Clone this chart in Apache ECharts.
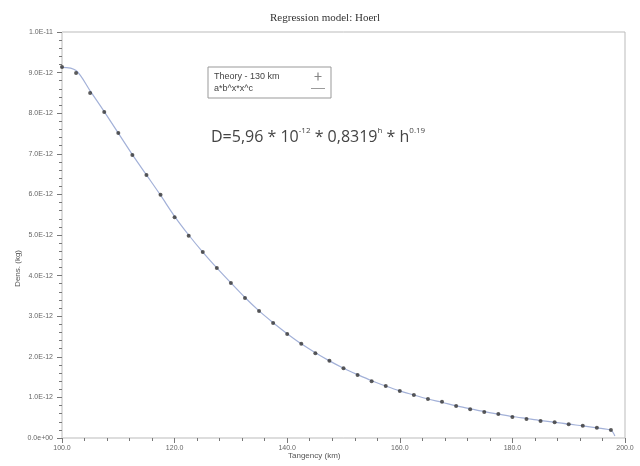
<!DOCTYPE html>
<html>
<head>
<meta charset="utf-8">
<script src="https://cdn.jsdelivr.net/npm/echarts@6/dist/echarts.min.js"></script>
<style>html,body{margin:0;padding:0;background:#fff}#c{width:640px;height:466px}</style>
</head>
<body>
<div id="c"></div>
<script>
// x values (km)
var xValues = [100,102.5,105,107.5,110,112.5,115,117.5,120,122.5,125,127.5,130,132.5,135,137.5,140,142.5,145,147.5,150,152.5,155,157.5,160,162.5,165,167.5,170,172.5,175,177.5,180,182.5,185,187.5,190,192.5,195,197.5];
// theory values, in units of 1e-12
var theoryE12 = [9.14,8.99,8.50,8.03,7.51,6.97,6.48,5.99,5.44,4.98,4.58,4.19,3.82,3.45,3.13,2.83,2.56,2.32,2.09,1.90,1.72,1.55,1.40,1.28,1.16,1.06,0.96,0.89,0.79,0.71,0.64,0.59,0.52,0.47,0.42,0.39,0.34,0.30,0.25,0.20];
// fitted curve a*b^x*x^c, in units of 1e-12
var fitX = [99.5,100,102.5,105,107.5,110,112.5,115,117.5,120,122.5,125,127.5,130,132.5,135,137.5,140,142.5,145,147.5,150,152.5,155,157.5,160,162.5,165,167.5,170,172.5,175,177.5,180,182.5,185,187.5,190,192.5,195,197.5,198.2];
var fitE12 = [9.13,9.13,9.05,8.55,8.04,7.51,6.98,6.48,5.98,5.46,5.00,4.58,4.19,3.82,3.46,3.13,2.84,2.57,2.32,2.10,1.90,1.72,1.56,1.41,1.28,1.16,1.06,0.96,0.88,0.79,0.72,0.65,0.59,0.53,0.48,0.43,0.39,0.34,0.30,0.25,0.19,0.05];
var yTickMin = 0, yTickMax = 10, yTickStep = 1;
var xTickMin = 100, xTickMax = 200, xTickStep = 20;
var titleText = 'Regression model: Hoerl';
var seriesNames = ['Theory - 130 km', 'a*b^x*x^c'];

var chart = echarts.init(document.getElementById('c'));
var tickColor = '#777';
var fitColor = '#a3b1d8';
chart.setOption({
  animation: false,
  backgroundColor: '#fff',
  title: {text: titleText, left: 320, top: 8, textAlign: 'center',
    textStyle: {fontFamily: 'Liberation Serif', fontSize: 11, fontWeight: 'normal', color: '#333'}},
  grid: {left: 62, right: 15, top: 32, bottom: 28, show: true, borderColor: '#bbb', borderWidth: 1},
  legend: {
    left: 208, top: 67, orient: 'vertical', align: 'right',
    borderColor: '#999', borderWidth: 1, padding: [5, 6, 5, 6], itemGap: 3,
    itemWidth: 14, itemHeight: 8,
    formatter: function(name){ return '{t|' + name + '}'; },
    textStyle: {fontFamily: 'Liberation Sans', fontSize: 9, color: '#444',
      rich: {t: {width: 92, align: 'left', fontFamily: 'Liberation Sans', fontSize: 9, color: '#444'}}},
    data: [
      {name: seriesNames[0], icon: 'path://M0,3.4H7V4.6H0Z M2.9,0H4.1V8H2.9Z', itemStyle: {color: '#666'}},
      {name: seriesNames[1], icon: 'path://M0,0H20V1.2H0Z', itemStyle: {color: '#888'}}
    ]
  },
  xAxis: {
    type: 'value', min: xTickMin, max: xTickMax, interval: xTickStep,
    axisLine: {show: true, lineStyle: {color: '#ddd'}},
    axisTick: {show: true, inside: false, length: 5, lineStyle: {color: tickColor}},
    minorTick: {show: true, splitNumber: 5, length: 3, lineStyle: {color: tickColor}},
    splitLine: {show: false},
    axisLabel: {fontFamily: 'Liberation Sans', fontSize: 7, color: '#666', margin: 7,
      formatter: function(v){ return v.toFixed(1); }}
  },
  yAxis: {
    type: 'value', min: yTickMin, max: yTickMax, interval: yTickStep,
    axisLine: {show: true, lineStyle: {color: '#ddd'}},
    axisTick: {show: true, length: 5, lineStyle: {color: tickColor}},
    minorTick: {show: true, splitNumber: 5, length: 3, lineStyle: {color: tickColor}},
    splitLine: {show: false},
    axisLabel: {fontFamily: 'Liberation Sans', fontSize: 7, color: '#666', margin: 9,
      formatter: function(v){ return v === 0 ? '0.0e+00' : (v * 1e-12).toExponential(1).toUpperCase(); }}
  },
  graphic: [
    {type: 'text', left: 211, top: 127, style: {
      text: '{b|D=5,96 * 10}{s|-12}{b| * 0,8319}{s|h}{b| * h}{s|0.19}',
      rich: {
        b: {fontFamily: 'Open Sans', fontSize: 16, fill: '#444', verticalAlign: 'bottom'},
        s: {fontFamily: 'Open Sans', fontSize: 8, fill: '#444', verticalAlign: 'top', padding: [0, 0, 10, 0]}
      }}},
    {type: 'text', left: 14, top: 250, rotation: Math.PI / 2, style: {
      text: 'Dens. (kg)', fontFamily: 'Liberation Sans', fontSize: 8, fill: '#555'}},
    {type: 'text', left: 288, top: 452, style: {
      text: 'Tangency (km)', fontFamily: 'Liberation Sans', fontSize: 8, fill: '#555'}}
  ],
  series: [
    {name: seriesNames[0], type: 'scatter', symbol: 'circle', symbolSize: 4,
      itemStyle: {color: '#333'}, z: 3,
      data: xValues.map(function(x, i){ return [x, theoryE12[i]]; })},
    {name: seriesNames[1], type: 'line', showSymbol: false, smooth: 0.3,
      lineStyle: {color: fitColor, width: 1.2}, itemStyle: {color: fitColor}, z: 2,
      data: fitX.map(function(x, i){ return [x, fitE12[i]]; })}
  ]
});
</script>
</body>
</html>
